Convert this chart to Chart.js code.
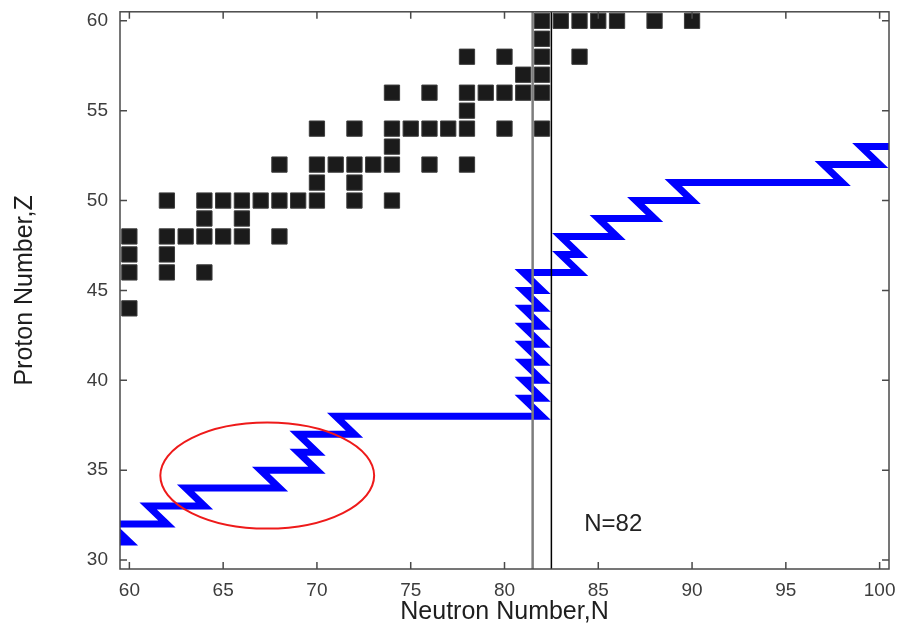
<!DOCTYPE html>
<html>
<head>
<meta charset="utf-8">
<script src="https://cdn.jsdelivr.net/npm/chart.js@4"></script>
<style>
  html, body { margin: 0; padding: 0; background: #fff; }
</style>
</head>
<body>
<canvas id="myChart" width="901" height="626"></canvas>
<script>
// axis ranges and tick labels
var xTicks = [60, 65, 70, 75, 80, 85, 90, 95, 100];
var yTicks = [30, 35, 40, 45, 50, 55, 60];
var xMin = 59.5, xMax = 100.5, yMin = 29.5, yMax = 60.5;

// stable nuclei (black squares): one list of N for each Z
var stableZ = [60, 59, 58, 57, 56, 55, 54, 53, 52, 51, 50, 49, 48, 47, 46, 44];
var stableN = [
  [82, 83, 84, 85, 86, 88, 90],
  [82],
  [78, 80, 82, 84],
  [81, 82],
  [74, 76, 78, 79, 80, 81, 82],
  [78],
  [70, 72, 74, 75, 76, 77, 78, 80, 82],
  [74],
  [68, 70, 71, 72, 73, 74, 76, 78],
  [70, 72],
  [62, 64, 65, 66, 67, 68, 69, 70, 72, 74],
  [64, 66],
  [60, 62, 63, 64, 65, 66, 68],
  [60, 62],
  [60, 62, 64],
  [60]
];

// r-process path: for each Z it runs from pathNfrom to pathNto, then beta-decays to Z+1
var pathZ     = [31, 32, 33, 34, 35, 36, 37, 38, 39, 40, 41, 42, 43, 44, 45, 46, 47, 48, 49, 50, 51, 52, 53];
var pathNfrom = [58, 59, 61, 63, 67, 69, 69, 71, 81, 81, 81, 81, 81, 81, 81, 81, 83, 83, 85, 87, 89, 97, 99];
var pathNto   = [60, 62, 64, 68, 70, 70, 72, 82, 82, 82, 82, 82, 82, 82, 82, 84, 84, 86, 88, 90, 98, 100, 102];

// N=82 shell closure borders
var shellN = [81.5, 82.5];
var shellLabel = { text: 'N=82', n: 85.8, z: 32.0 };

// red ring round the Z=32..37 zigzag
var ring = { n: 67.35, z: 34.7, rn: 5.7, rz: 2.95 };

Chart.defaults.font.family = '"Liberation Sans", Arial, sans-serif';

var stablePoints = [];
stableZ.forEach(function (z, i) {
  stableN[i].forEach(function (n) { stablePoints.push({ x: n, y: z }); });
});

var pathPoints = [];
pathZ.forEach(function (z, i) {
  pathPoints.push({ x: pathNfrom[i], y: z });
  pathPoints.push({ x: pathNto[i], y: z });
});

var framePlugin = {
  id: 'frame',
  afterDatasetsDraw: function (chart) {
    var ctx = chart.ctx, a = chart.chartArea, x = chart.scales.x, y = chart.scales.y;
    ctx.save();
    // red ring
    var cx = x.getPixelForValue(ring.n), cy = y.getPixelForValue(ring.z);
    var rx = x.getPixelForValue(ring.n + ring.rn) - cx;
    var ry = cy - y.getPixelForValue(ring.z + ring.rz);
    ctx.strokeStyle = '#ee1a1a';
    ctx.lineWidth = 2;
    ctx.beginPath();
    ctx.ellipse(cx, cy, rx, ry, 0, 0, Math.PI * 2);
    ctx.stroke();
    // N=82 text
    ctx.fillStyle = '#222';
    ctx.font = '24px "Liberation Sans", Arial, sans-serif';
    ctx.textAlign = 'center';
    ctx.textBaseline = 'middle';
    ctx.fillText(shellLabel.text, x.getPixelForValue(shellLabel.n), y.getPixelForValue(shellLabel.z));
    // box and inward ticks on all four sides
    ctx.strokeStyle = '#4a4a4a';
    ctx.lineWidth = 1.5;
    ctx.strokeRect(a.left, a.top, a.right - a.left, a.bottom - a.top);
    ctx.beginPath();
    xTicks.forEach(function (v) {
      var px = x.getPixelForValue(v);
      ctx.moveTo(px, a.bottom); ctx.lineTo(px, a.bottom - 7);
      ctx.moveTo(px, a.top); ctx.lineTo(px, a.top + 7);
    });
    yTicks.forEach(function (v) {
      var py = y.getPixelForValue(v);
      ctx.moveTo(a.left, py); ctx.lineTo(a.left + 7, py);
      ctx.moveTo(a.right, py); ctx.lineTo(a.right - 7, py);
    });
    ctx.stroke();
    ctx.restore();
  }
};

var ctx = document.getElementById('myChart').getContext('2d');
var chart = new Chart(ctx, {
  type: 'scatter',
  data: {
    datasets: [
      {
        label: 'N=81.5',
        data: [{ x: shellN[0], y: yMin }, { x: shellN[0], y: yMax }],
        showLine: true, borderColor: '#7d7d7d', borderWidth: 2.5,
        pointRadius: 0, clip: 0, order: 0
      },
      {
        label: 'N=82.5',
        data: [{ x: shellN[1], y: yMin }, { x: shellN[1], y: yMax }],
        showLine: true, borderColor: '#000', borderWidth: 1.5,
        pointRadius: 0, clip: 0, order: 0
      },
      {
        label: 'r-process path',
        data: pathPoints,
        showLine: true, borderColor: '#0000ff', borderWidth: 7,
        borderJoinStyle: 'miter', borderCapStyle: 'butt', tension: 0,
        pointRadius: 0, clip: 0, order: 1
      },
      {
        label: 'stable',
        data: stablePoints,
        pointStyle: 'rect', pointRadius: 10.8, pointHoverRadius: 10.8,
        backgroundColor: '#1b1b1b', borderColor: '#3c3c3c', borderWidth: 1,
        clip: 0, order: 2
      }
    ]
  },
  options: {
    responsive: false,
    animation: false,
    events: [],
    layout: { padding: { left: 0, right: 12, top: 11, bottom: 0 } },
    plugins: { legend: { display: false }, tooltip: { enabled: false } },
    scales: {
      x: {
        type: 'linear', min: xMin, max: xMax,
        afterBuildTicks: function (s) { s.ticks = xTicks.map(function (v) { return { value: v }; }); },
        afterFit: function (s) { s.height = 57; s.paddingLeft = 0; s.paddingRight = 0; },
        grid: { display: false, drawTicks: false },
        border: { display: false },
        ticks: { color: '#3c3c3c', font: { size: 19 }, padding: 10, maxRotation: 0, autoSkip: false },
        title: { display: true, text: 'Neutron Number,N', color: '#1e1e1e', font: { size: 25, lineHeight: 1.12 }, padding: 0 }
      },
      y: {
        type: 'linear', min: yMin, max: yMax,
        afterBuildTicks: function (s) { s.ticks = yTicks.map(function (v) { return { value: v }; }); },
        afterFit: function (s) { s.width = 120; s.paddingTop = 0; s.paddingBottom = 0; },
        grid: { display: false, drawTicks: false },
        border: { display: false },
        ticks: { color: '#3c3c3c', font: { size: 19 }, padding: 12, autoSkip: false },
        title: { display: true, text: 'Proton Number,Z', color: '#1e1e1e', font: { size: 25, lineHeight: 1.2 }, padding: { top: 10, bottom: 0 } }
      }
    }
  },
  plugins: [framePlugin]
});
</script>
</body>
</html>
